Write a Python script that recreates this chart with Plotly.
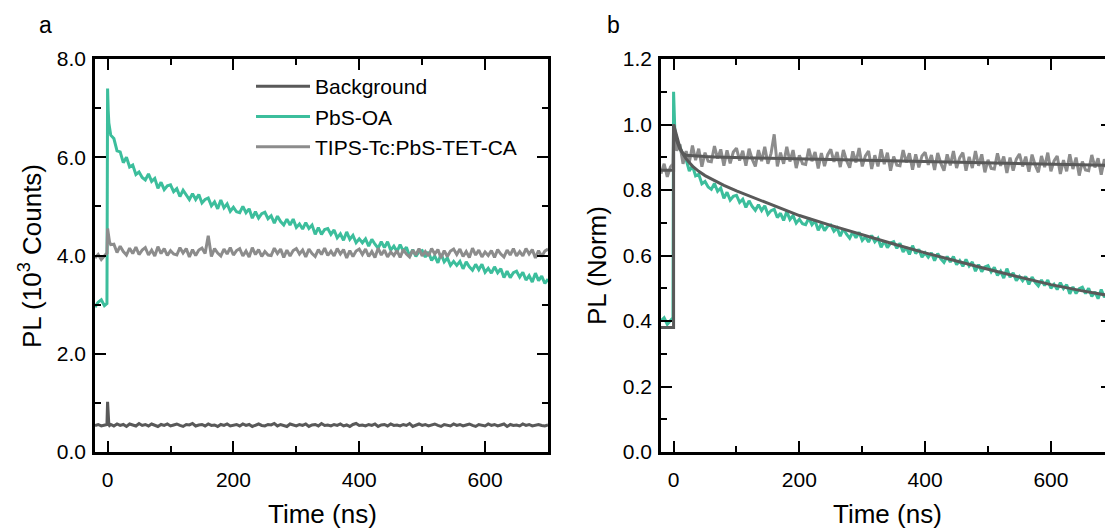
import plotly.graph_objects as go

# ---------------- data ----------------
time_ns = [-20, -15, -10, -5, -1, 0, 1, 2, 3, 5] + list(range(10, 701, 5))

background_kcounts = [
    0.54, 0.56, 0.53, 0.55, 0.56, 1.02, 0.62, 0.56, 0.54, 0.56,
    0.53, 0.57, 0.54, 0.56, 0.52, 0.57, 0.55, 0.53, 0.58, 0.54,
    0.56, 0.53, 0.57, 0.55, 0.52, 0.56, 0.54, 0.57, 0.53, 0.55,
    0.57, 0.54, 0.52, 0.56, 0.55, 0.58, 0.53, 0.55, 0.56, 0.53,
    0.57, 0.54, 0.55, 0.52, 0.56, 0.54, 0.57, 0.53, 0.55, 0.56,
    0.53, 0.57, 0.54, 0.56, 0.52, 0.55, 0.57, 0.54, 0.53, 0.56,
    0.55, 0.58, 0.53, 0.56, 0.54, 0.52, 0.57, 0.55, 0.53, 0.56,
    0.54, 0.57, 0.52, 0.55, 0.56, 0.53, 0.58, 0.54, 0.55, 0.53,
    0.56, 0.54, 0.57, 0.53, 0.55, 0.52, 0.56, 0.58, 0.54, 0.55,
    0.53, 0.56, 0.54, 0.57, 0.52, 0.55, 0.56, 0.53, 0.57, 0.54,
    0.55, 0.53, 0.56, 0.54, 0.58, 0.52, 0.55, 0.57, 0.54, 0.56,
    0.53, 0.55, 0.57, 0.54, 0.52, 0.56, 0.55, 0.53, 0.57, 0.54,
    0.56, 0.53, 0.55, 0.57, 0.54, 0.52, 0.56, 0.55, 0.53, 0.57,
    0.54, 0.56, 0.53, 0.55, 0.57, 0.52, 0.56, 0.54, 0.55, 0.53,
    0.57, 0.54, 0.56, 0.53, 0.55, 0.56, 0.54, 0.53, 0.55,
]

pbs_oa_kcounts = [
    2.95, 3.05, 3.10, 2.98, 3.02, 7.40, 6.95, 6.70, 6.60, 6.45,
    6.38, 6.13, 6.11, 5.89, 6.00, 5.80, 5.84, 5.65, 5.70, 5.59,
    5.54, 5.66, 5.51, 5.57, 5.37, 5.49, 5.34, 5.42, 5.44, 5.30,
    5.36, 5.20, 5.33, 5.22, 5.14, 5.26, 5.14, 5.24, 5.07, 5.14,
    5.17, 5.01, 5.09, 4.95, 5.13, 4.97, 5.05, 4.90, 4.98, 4.89,
    4.87, 5.00, 4.87, 4.95, 4.76, 4.89, 4.76, 4.85, 4.88, 4.75,
    4.81, 4.66, 4.80, 4.69, 4.62, 4.74, 4.62, 4.74, 4.57, 4.64,
    4.54, 4.67, 4.55, 4.62, 4.43, 4.57, 4.43, 4.53, 4.55, 4.43,
    4.52, 4.36, 4.44, 4.31, 4.48, 4.33, 4.41, 4.26, 4.34, 4.26,
    4.34, 4.19, 4.33, 4.23, 4.15, 4.28, 4.16, 4.28, 4.11, 4.19,
    4.08, 4.22, 4.09, 4.17, 3.98, 4.12, 3.98, 4.08, 4.10, 3.97,
    4.07, 3.90, 3.99, 3.85, 4.03, 3.87, 3.95, 3.80, 3.88, 3.80,
    3.88, 3.73, 3.87, 3.77, 3.70, 3.82, 3.71, 3.82, 3.66, 3.74,
    3.64, 3.77, 3.65, 3.73, 3.55, 3.68, 3.55, 3.65, 3.68, 3.56,
    3.66, 3.50, 3.59, 3.46, 3.64, 3.49, 3.58, 3.43, 3.52,
]

tips_kcounts = [
    3.95, 4.02, 3.92, 4.00, 4.05, 4.55, 4.45, 4.35, 4.28, 4.22,
    4.23, 4.06, 4.19, 4.08, 4.01, 4.15, 4.04, 4.17, 4.02, 4.11,
    4.16, 4.01, 4.11, 3.99, 4.18, 4.04, 4.14, 4.00, 4.10, 4.03,
    4.01, 4.16, 4.05, 4.14, 3.97, 4.12, 4.00, 4.11, 4.15, 4.04,
    4.40, 3.98, 4.14, 4.05, 3.99, 4.13, 4.03, 4.16, 4.01, 4.10,
    4.14, 3.99, 4.09, 3.97, 4.16, 4.02, 4.12, 3.98, 4.08, 4.01,
    4.00, 4.15, 4.04, 4.13, 3.96, 4.11, 3.99, 4.10, 4.14, 4.03,
    4.11, 3.97, 4.13, 4.04, 3.98, 4.12, 4.02, 4.15, 4.00, 4.09,
    3.99, 4.14, 4.03, 4.12, 3.95, 4.10, 3.98, 4.09, 4.13, 4.02,
    4.13, 3.98, 4.08, 3.96, 4.15, 4.01, 4.11, 3.97, 4.07, 4.00,
    4.10, 3.96, 4.12, 4.03, 3.97, 4.11, 4.01, 4.14, 3.99, 4.08,
    3.99, 4.14, 4.03, 4.12, 3.95, 4.10, 3.98, 4.09, 4.13, 4.02,
    4.13, 3.98, 4.08, 3.96, 4.15, 4.01, 4.11, 3.97, 4.07, 4.00,
    4.10, 3.96, 4.12, 4.03, 3.97, 4.11, 4.01, 4.14, 3.99, 4.08,
    3.99, 4.14, 4.03, 4.12, 3.95, 4.10, 3.98, 4.09, 4.13,
]

pbs_oa_norm = [
    0.400, 0.410, 0.390, 0.400, 0.410, 1.100, 1.020, 0.980, 0.960, 0.940,
    0.935, 0.896, 0.893, 0.858, 0.874, 0.843, 0.848, 0.819, 0.826, 0.809,
    0.802, 0.820, 0.796, 0.806, 0.775, 0.793, 0.769, 0.781, 0.784, 0.762,
    0.772, 0.747, 0.767, 0.750, 0.738, 0.755, 0.737, 0.752, 0.726, 0.737,
    0.741, 0.716, 0.729, 0.707, 0.734, 0.710, 0.722, 0.699, 0.711, 0.697,
    0.694, 0.714, 0.694, 0.706, 0.677, 0.697, 0.676, 0.690, 0.693, 0.674,
    0.684, 0.659, 0.682, 0.665, 0.653, 0.672, 0.654, 0.671, 0.646, 0.657,
    0.641, 0.661, 0.642, 0.653, 0.625, 0.645, 0.624, 0.638, 0.642, 0.622,
    0.637, 0.611, 0.625, 0.603, 0.630, 0.606, 0.619, 0.595, 0.608, 0.595,
    0.608, 0.584, 0.606, 0.590, 0.579, 0.597, 0.580, 0.597, 0.572, 0.584,
    0.567, 0.588, 0.568, 0.580, 0.552, 0.572, 0.551, 0.565, 0.569, 0.550,
    0.564, 0.539, 0.552, 0.531, 0.560, 0.534, 0.547, 0.523, 0.536, 0.523,
    0.536, 0.512, 0.534, 0.518, 0.507, 0.525, 0.508, 0.525, 0.500, 0.512,
    0.496, 0.517, 0.499, 0.511, 0.483, 0.504, 0.484, 0.499, 0.503, 0.484,
    0.500, 0.475, 0.489, 0.468, 0.496, 0.473, 0.486, 0.464, 0.477,
]

tips_norm = [
    0.850, 0.880, 0.840, 0.870, 0.880, 0.990, 0.970, 0.950, 0.940, 0.920,
    0.940, 0.880, 0.919, 0.884, 0.936, 0.891, 0.926, 0.871, 0.914, 0.888,
    0.886, 0.934, 0.896, 0.924, 0.874, 0.921, 0.881, 0.916, 0.928, 0.890,
    0.920, 0.874, 0.926, 0.894, 0.872, 0.922, 0.888, 0.932, 0.880, 0.912,
    0.970, 0.872, 0.914, 0.880, 0.932, 0.887, 0.922, 0.867, 0.906, 0.880,
    0.878, 0.926, 0.888, 0.916, 0.866, 0.913, 0.873, 0.908, 0.924, 0.886,
    0.916, 0.870, 0.922, 0.890, 0.868, 0.918, 0.884, 0.928, 0.872, 0.904,
    0.919, 0.864, 0.906, 0.872, 0.924, 0.879, 0.914, 0.859, 0.902, 0.876,
    0.874, 0.922, 0.884, 0.912, 0.862, 0.909, 0.869, 0.904, 0.915, 0.877,
    0.907, 0.861, 0.913, 0.881, 0.859, 0.909, 0.875, 0.919, 0.867, 0.899,
    0.914, 0.859, 0.901, 0.867, 0.919, 0.874, 0.909, 0.854, 0.892, 0.866,
    0.864, 0.912, 0.874, 0.902, 0.852, 0.899, 0.859, 0.894, 0.910, 0.872,
    0.902, 0.856, 0.908, 0.876, 0.854, 0.904, 0.870, 0.914, 0.857, 0.889,
    0.904, 0.849, 0.891, 0.857, 0.909, 0.864, 0.899, 0.844, 0.887, 0.861,
    0.859, 0.907, 0.869, 0.897, 0.847, 0.894, 0.854, 0.889, 0.905,
]

fit_time_ns = [-20, 0, 0, 2, 5, 10, 15, 20, 30, 40, 50, 65, 80, 100, 125, 150,
               175, 200, 250, 300, 350, 400, 450, 500, 550, 600, 650, 700]
pbs_oa_fit = [0.38, 0.38, 1.00, 0.985, 0.962, 0.930, 0.910, 0.895, 0.873, 0.857,
              0.844, 0.828, 0.814, 0.797, 0.778, 0.760, 0.741, 0.722, 0.692, 0.663,
              0.635, 0.608, 0.582, 0.558, 0.534, 0.511, 0.492, 0.475]
tips_fit = [0.86, 0.86, 1.00, 0.975, 0.950, 0.925, 0.912, 0.906, 0.904, 0.903,
            0.902, 0.901, 0.900, 0.899, 0.898, 0.897, 0.896, 0.895, 0.893, 0.891,
            0.889, 0.887, 0.885, 0.883, 0.881, 0.879, 0.877, 0.875]

series_names = ["Background", "PbS-OA", "TIPS-Tc:PbS-TET-CA"]
x_ticks = [0, 200, 400, 600]

# ---------------- style ----------------
DARK = "#595959"
TEAL = "#3cbe9c"
LIGHT = "#8c8c8c"
FONT = "Liberation Sans, Arial, sans-serif"
W, H = 1105, 530
TOP, BOTTOM = 59, 452
PA_L, PA_R = 95, 548
PB_L = 661
DATA_W = 3

fig = go.Figure()

# Panel a
fig.add_trace(go.Scatter(x=time_ns, y=background_kcounts, mode="lines", name=series_names[0],
                         line=dict(color=DARK, width=DATA_W), xaxis="x", yaxis="y"))
fig.add_trace(go.Scatter(x=time_ns, y=pbs_oa_kcounts, mode="lines", name=series_names[1],
                         line=dict(color=TEAL, width=DATA_W), xaxis="x", yaxis="y"))
fig.add_trace(go.Scatter(x=time_ns, y=tips_kcounts, mode="lines", name=series_names[2],
                         line=dict(color=LIGHT, width=DATA_W), xaxis="x", yaxis="y"))

# Panel b
fig.add_trace(go.Scatter(x=time_ns, y=pbs_oa_norm, mode="lines", showlegend=False,
                         line=dict(color=TEAL, width=DATA_W), xaxis="x2", yaxis="y2"))
fig.add_trace(go.Scatter(x=time_ns, y=tips_norm, mode="lines", showlegend=False,
                         line=dict(color=LIGHT, width=DATA_W), xaxis="x2", yaxis="y2"))
fig.add_trace(go.Scatter(x=fit_time_ns, y=pbs_oa_fit, mode="lines", showlegend=False,
                         line=dict(color=DARK, width=3), xaxis="x2", yaxis="y2"))
fig.add_trace(go.Scatter(x=fit_time_ns, y=tips_fit, mode="lines", showlegend=False,
                         line=dict(color=DARK, width=3), xaxis="x2", yaxis="y2"))
# empty trace carrying the right-hand tick stubs of panel b
fig.add_trace(go.Scatter(x=[], y=[], mode="lines", showlegend=False, hoverinfo="skip",
                         xaxis="x2", yaxis="y3"))

tickfont = dict(family=FONT, size=21, color="black")
common = dict(showline=True, linecolor="black", linewidth=2.5, ticks="inside",
              ticklen=11, tickwidth=2, tickcolor="black", showgrid=False,
              zeroline=False, tickfont=tickfont)
minor_x = dict(dtick=100, tick0=0, ticks="inside", ticklen=6, tickwidth=2,
               tickcolor="black", showgrid=False)

fig.update_layout(
    width=W, height=H,
    margin=dict(l=0, r=0, t=TOP, b=H - BOTTOM, pad=0),
    paper_bgcolor="white", plot_bgcolor="white",
    font=dict(family=FONT, color="black"),
    xaxis=dict(domain=[PA_L / W, PA_R / W], range=[-20, 700], tickvals=x_ticks,
               mirror="ticks", minor=minor_x, anchor="y", ticklabelstandoff=7, **common),
    yaxis=dict(domain=[0, 1], range=[0, 8], tick0=0, dtick=2, tickformat=".1f",
               mirror="ticks", anchor="x", ticklabelstandoff=2,
               minor=dict(dtick=1, tick0=0, ticks="inside", ticklen=6, tickwidth=2,
                          tickcolor="black", showgrid=False), **common),
    xaxis2=dict(domain=[PB_L / W, 1], range=[-20, 686], tickvals=x_ticks,
                mirror="ticks", minor=minor_x, anchor="y2", ticklabelstandoff=7, **common),
    yaxis2=dict(domain=[0, 1], range=[0, 1.2], tick0=0, dtick=0.2, tickformat=".1f",
                mirror=False, anchor="x2", ticklabelstandoff=2,
                minor=dict(dtick=0.1, tick0=0, ticks="inside", ticklen=6, tickwidth=2,
                           tickcolor="black", showgrid=False), **common),
    yaxis3=dict(overlaying="y2", anchor="x2", side="right", range=[0, 1.2], tick0=0,
                dtick=0.2, ticks="inside", ticklen=4, tickwidth=2, tickcolor="black",
                showticklabels=False, showline=False, showgrid=False, zeroline=False),
    showlegend=True,
    legend=dict(x=251 / W, y=(BOTTOM - 66) / (BOTTOM - TOP), xanchor="left", yanchor="top",
                bgcolor="rgba(0,0,0,0)", borderwidth=0, itemwidth=54,
                font=dict(family=FONT, size=21, color="black"),
                tracegroupgap=0),
)

ann_font = dict(family=FONT, size=26, color="black")


def py(pix):
    return (BOTTOM - pix) / (BOTTOM - TOP)


def label(text, xpix, ypix, font, angle=0):
    fig.add_annotation(text=text, x=xpix / W, y=py(ypix), xref="paper", yref="paper",
                       xanchor="center", yanchor="middle", showarrow=False,
                       textangle=angle, font=font)


label("a", 45, 25, dict(family=FONT, size=23, color="black"))
label("b", 613, 25, dict(family=FONT, size=23, color="black"))
label("Time (ns)", 322, 514, ann_font)
label("Time (ns)", 887, 514, ann_font)
label("PL (10<sup>3</sup> Counts)", 30, 256, ann_font, -90)
label("PL (Norm)", 597, 266, ann_font, -90)

fig.write_html("out.html")
